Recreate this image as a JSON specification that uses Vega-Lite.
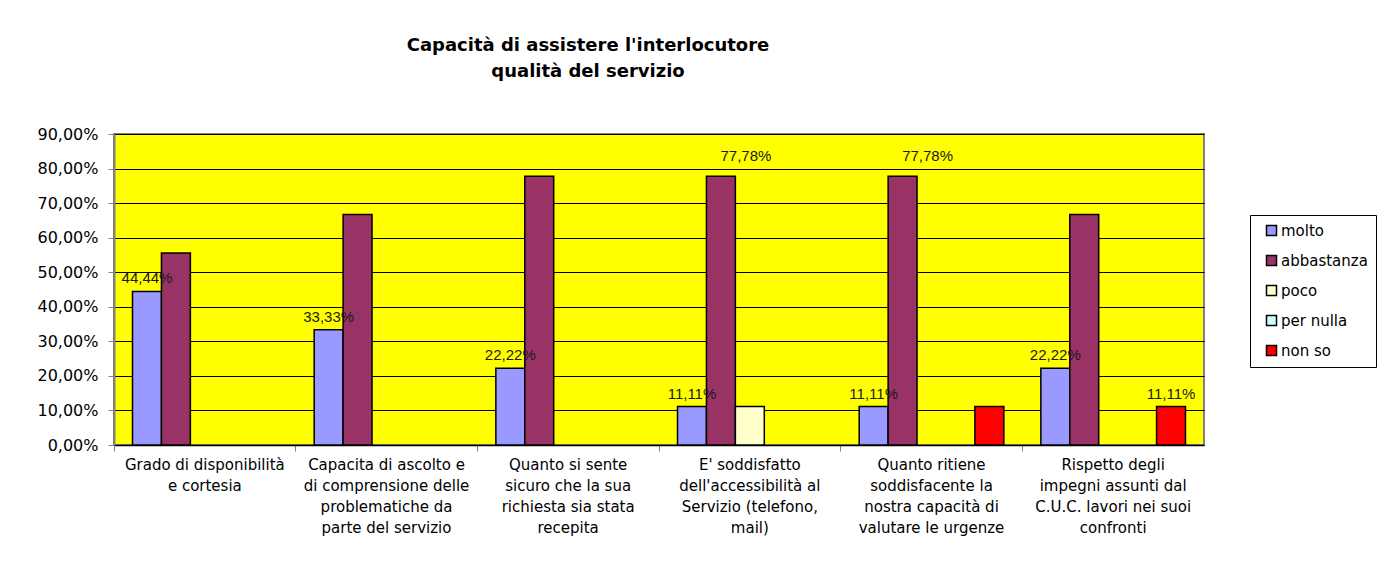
{
  "$schema": "https://vega.github.io/schema/vega-lite/v6.json",
  "autosize": {"type": "none"},
  "width": 1090,
  "height": 311,
  "padding": {"left": 114, "top": 134, "right": 176, "bottom": 129},
  "background": "#ffffff",
  "title": {
    "text": ["Capacità  di assistere l'interlocutore", "qualità  del servizio"],
    "anchor": "middle",
    "frame": "group",
    "dx": -71,
    "offset": 45,
    "font": "DejaVu Sans",
    "fontSize": 18,
    "fontWeight": "bold",
    "color": "#000000",
    "lineHeight": 26
  },
  "config": {
    "locale": {"number": {"decimal": ",", "thousands": ".", "grouping": [3], "currency": ["", " €"]}},
    "font": "DejaVu Sans",
    "view": {"fill": "#FFFF00", "stroke": "#808080", "strokeWidth": 2}
  },
  "data": {
    "values": [
      {"categoria": "Grado di disponibilità|e cortesia", "risposta": "molto", "valore": 0.4444},
      {"categoria": "Grado di disponibilità|e cortesia", "risposta": "abbastanza", "valore": 0.5556},
      {"categoria": "Grado di disponibilità|e cortesia", "risposta": "poco", "valore": 0},
      {"categoria": "Grado di disponibilità|e cortesia", "risposta": "per nulla", "valore": 0},
      {"categoria": "Grado di disponibilità|e cortesia", "risposta": "non so", "valore": 0},
      {"categoria": "Capacita di ascolto e|di comprensione delle|problematiche da|parte del servizio", "risposta": "molto", "valore": 0.3333},
      {"categoria": "Capacita di ascolto e|di comprensione delle|problematiche da|parte del servizio", "risposta": "abbastanza", "valore": 0.6667},
      {"categoria": "Capacita di ascolto e|di comprensione delle|problematiche da|parte del servizio", "risposta": "poco", "valore": 0},
      {"categoria": "Capacita di ascolto e|di comprensione delle|problematiche da|parte del servizio", "risposta": "per nulla", "valore": 0},
      {"categoria": "Capacita di ascolto e|di comprensione delle|problematiche da|parte del servizio", "risposta": "non so", "valore": 0},
      {"categoria": "Quanto si sente|sicuro che la sua|richiesta sia stata|recepita", "risposta": "molto", "valore": 0.2222},
      {"categoria": "Quanto si sente|sicuro che la sua|richiesta sia stata|recepita", "risposta": "abbastanza", "valore": 0.7778},
      {"categoria": "Quanto si sente|sicuro che la sua|richiesta sia stata|recepita", "risposta": "poco", "valore": 0},
      {"categoria": "Quanto si sente|sicuro che la sua|richiesta sia stata|recepita", "risposta": "per nulla", "valore": 0},
      {"categoria": "Quanto si sente|sicuro che la sua|richiesta sia stata|recepita", "risposta": "non so", "valore": 0},
      {"categoria": "E' soddisfatto|dell'accessibilità al|Servizio (telefono,|mail)", "risposta": "molto", "valore": 0.1111},
      {"categoria": "E' soddisfatto|dell'accessibilità al|Servizio (telefono,|mail)", "risposta": "abbastanza", "valore": 0.7778},
      {"categoria": "E' soddisfatto|dell'accessibilità al|Servizio (telefono,|mail)", "risposta": "poco", "valore": 0.1111},
      {"categoria": "E' soddisfatto|dell'accessibilità al|Servizio (telefono,|mail)", "risposta": "per nulla", "valore": 0},
      {"categoria": "E' soddisfatto|dell'accessibilità al|Servizio (telefono,|mail)", "risposta": "non so", "valore": 0},
      {"categoria": "Quanto ritiene|soddisfacente la|nostra capacità di|valutare le urgenze", "risposta": "molto", "valore": 0.1111},
      {"categoria": "Quanto ritiene|soddisfacente la|nostra capacità di|valutare le urgenze", "risposta": "abbastanza", "valore": 0.7778},
      {"categoria": "Quanto ritiene|soddisfacente la|nostra capacità di|valutare le urgenze", "risposta": "poco", "valore": 0},
      {"categoria": "Quanto ritiene|soddisfacente la|nostra capacità di|valutare le urgenze", "risposta": "per nulla", "valore": 0},
      {"categoria": "Quanto ritiene|soddisfacente la|nostra capacità di|valutare le urgenze", "risposta": "non so", "valore": 0.1111},
      {"categoria": "Rispetto degli|impegni assunti dal|C.U.C. lavori nei suoi|confronti", "risposta": "molto", "valore": 0.2222},
      {"categoria": "Rispetto degli|impegni assunti dal|C.U.C. lavori nei suoi|confronti", "risposta": "abbastanza", "valore": 0.6667},
      {"categoria": "Rispetto degli|impegni assunti dal|C.U.C. lavori nei suoi|confronti", "risposta": "poco", "valore": 0},
      {"categoria": "Rispetto degli|impegni assunti dal|C.U.C. lavori nei suoi|confronti", "risposta": "per nulla", "valore": 0},
      {"categoria": "Rispetto degli|impegni assunti dal|C.U.C. lavori nei suoi|confronti", "risposta": "non so", "valore": 0.1111}
    ]
  },
  "encoding": {
    "x": {
      "field": "categoria",
      "type": "nominal",
      "sort": null,
      "scale": {"paddingInner": 0, "paddingOuter": 0},
      "axis": {
        "title": null,
        "labelExpr": "split(datum.label, '|')",
        "labelAngle": 0,
        "labelFont": "DejaVu Sans",
        "labelFontSize": 15,
        "labelLineHeight": 21,
        "labelColor": "#000000",
        "labelPadding": 6,
        "labelLimit": 300,
        "bandPosition": 0,
        "labelBaseline": "top",
        "tickColor": "#808080",
        "tickSize": 6,
        "domainColor": "#000000",
        "domainWidth": 1.5,
        "grid": false
      }
    },
    "xOffset": {
      "field": "risposta",
      "type": "nominal",
      "sort": ["molto", "abbastanza", "poco", "per nulla", "non so"],
      "scale": {"domain": ["molto", "abbastanza", "poco", "per nulla", "non so"], "paddingInner": 0, "paddingOuter": 0.64}
    },
    "y": {
      "field": "valore",
      "type": "quantitative",
      "scale": {"domain": [0, 0.9], "nice": false},
      "axis": {
        "title": null,
        "format": ".2%",
        "values": [0, 0.1, 0.2, 0.3, 0.4, 0.5, 0.6, 0.7, 0.8, 0.9],
        "labelFont": "DejaVu Sans",
        "labelFontSize": 16,
        "labelColor": "#000000",
        "labelPadding": 10,
        "tickColor": "#808080",
        "tickSize": 6,
        "domainColor": "#808080",
        "domainWidth": 2,
        "grid": true,
        "gridColor": "#000000",
        "gridWidth": 1
      }
    }
  },
  "layer": [
    {
      "transform": [{"filter": "datum.valore > 0"}],
      "mark": {"type": "bar", "stroke": "#000000", "strokeWidth": 1.5},
      "encoding": {
        "color": {
          "field": "risposta",
          "type": "nominal",
          "scale": {
            "domain": ["molto", "abbastanza", "poco", "per nulla", "non so"],
            "range": ["#9999FF", "#993366", "#FFFFCC", "#CCFFFF", "#FF0000"]
          },
          "legend": {
            "title": null,
            "orient": "none",
            "legendX": 1136,
            "legendY": 81,
            "strokeColor": "#000000",
            "fillColor": "#ffffff",
            "padding": 8,
            "symbolOffset": 6,
            "symbolType": "square",
            "symbolSize": 100,
            "symbolStrokeColor": "#000000",
            "symbolStrokeWidth": 1.5,
            "labelFont": "DejaVu Sans",
            "labelFontSize": 15,
            "labelColor": "#000000",
            "labelOffset": 2,
            "rowPadding": 13
          }
        }
      }
    },
    {
      "transform": [{"filter": "datum.risposta == 'molto' || (datum.risposta == 'non so' && indexof(datum.categoria, 'Rispetto') == 0)"}],
      "mark": {"type": "text", "baseline": "bottom", "dy": -5, "font": "Liberation Sans", "fontSize": 15, "color": "#1a1a1a"},
      "encoding": {"text": {"field": "valore", "type": "quantitative", "format": ".2%"}}
    },
    {
      "transform": [{"filter": "datum.risposta == 'abbastanza' && datum.valore > 0.7 && (indexof(datum.categoria, 'E\\'') == 0 || indexof(datum.categoria, 'Quanto ritiene') == 0)"}],
      "mark": {"type": "text", "baseline": "bottom", "dx": 25, "dy": -12, "font": "Liberation Sans", "fontSize": 15, "color": "#1a1a1a"},
      "encoding": {"text": {"field": "valore", "type": "quantitative", "format": ".2%"}}
    }
  ]
}
